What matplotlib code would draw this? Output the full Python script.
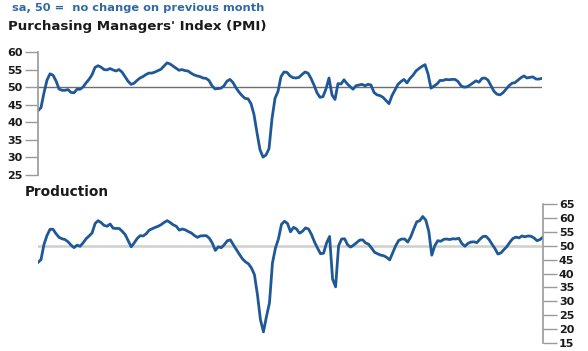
import numpy as np
import matplotlib
matplotlib.use("Agg")
import matplotlib.pyplot as plt

# Monthly readings, seasonally adjusted (50 = no change on previous month)
pmi = [
    43.3, 44.2, 48.4, 52.0, 53.8, 53.4, 51.8, 49.5, 49.1, 49.1,
    49.3, 48.5, 48.4, 49.4, 49.4, 50.0, 51.2, 52.2, 53.5, 55.6,
    56.1, 55.7, 55.0, 54.9, 55.3, 54.9, 54.6, 55.0, 54.3, 53.0,
    51.7, 50.8, 51.1, 51.9, 52.6, 53.0, 53.6, 54.0, 54.0, 54.3,
    54.7, 55.1, 56.0, 56.9, 56.6, 56.0, 55.4, 54.8, 55.0, 54.7,
    54.6, 54.0, 53.5, 53.2, 53.0, 52.6, 52.5, 51.9, 50.4, 49.5,
    49.6, 49.7, 50.4, 51.7, 52.2, 51.3, 49.8, 48.6, 47.6, 46.8,
    46.7, 45.3, 42.2, 37.0, 32.2, 30.1, 30.7, 32.5, 41.0, 46.8,
    48.8, 53.0, 54.3, 54.2, 53.2, 52.7, 52.6, 52.8, 53.6, 54.3,
    54.0, 52.5, 50.6, 48.4, 47.1, 47.3, 49.5, 52.6, 47.8, 46.5,
    51.0, 50.9, 52.1, 51.0, 50.2, 49.4, 50.4, 50.6, 50.8, 50.4,
    50.8, 50.6, 48.5, 47.8, 47.6, 47.1, 46.2, 45.3, 47.6, 49.2,
    50.8, 51.6, 52.2, 51.2, 52.5, 53.4, 54.6, 55.3, 55.9, 56.4,
    53.8, 49.7, 50.3, 50.9, 51.9, 51.9, 52.2, 52.1, 52.2, 52.2,
    51.6, 50.4, 50.0, 50.1, 50.6, 51.2, 51.8, 51.4, 52.5, 52.6,
    52.0, 50.4, 48.8, 48.0, 47.8, 48.4, 49.4, 50.4, 51.1, 51.3,
    52.0, 52.7, 53.2, 52.6, 52.8, 52.9, 52.3, 52.3, 52.5,
]

production = [
    44.0, 45.0, 50.5, 53.7, 55.9, 55.9, 54.3, 53.0, 52.5, 52.2,
    51.4, 50.2, 49.3, 50.2, 49.8, 51.0, 52.5, 53.5, 54.6, 58.0,
    59.0, 58.3, 57.3, 57.0, 57.8, 56.3, 56.2, 56.2, 55.2, 54.0,
    51.8, 49.6, 51.0, 52.6, 53.6, 53.5, 54.3, 55.6, 56.1, 56.6,
    57.0, 57.6, 58.4, 59.0, 58.3, 57.5, 57.0, 55.6, 56.0, 55.7,
    55.1, 54.6, 53.7, 53.0, 53.5, 53.6, 53.6, 52.7, 50.9, 48.3,
    49.6, 49.3, 50.4, 51.8, 52.1, 50.3, 48.6, 46.9, 45.3, 44.2,
    43.5, 42.0, 39.6, 32.4, 23.4, 19.0, 24.5, 29.4, 43.8, 49.2,
    52.5, 57.7, 58.8, 58.0, 55.0, 56.6, 56.0, 54.5, 55.2, 56.4,
    56.0, 54.0, 51.3, 49.1, 47.1, 47.3, 51.0, 53.3, 38.0, 35.2,
    50.0, 52.4, 52.5, 50.3, 49.5, 50.2, 51.1, 52.0, 52.1, 51.0,
    50.5, 49.1, 47.6, 47.1, 46.6, 46.4, 45.8, 44.9, 47.4, 50.0,
    51.9, 52.4, 52.4, 51.3, 53.2, 56.0, 58.6, 59.0, 60.5, 59.2,
    55.2, 46.6, 50.0, 51.8, 51.6, 52.3, 52.4, 52.2, 52.5, 52.4,
    52.7, 50.8, 49.8, 50.8, 51.3, 51.4, 51.1, 52.3, 53.3, 53.4,
    52.3, 50.6, 49.0, 47.0, 47.4, 48.6, 49.7, 51.3, 52.6, 53.1,
    52.8, 53.5, 53.2, 53.5, 53.4, 52.8, 51.8, 52.2, 53.1,
]

pmi_ticks = [25, 30, 35, 40, 45, 50, 55, 60]
prod_ticks = [15, 20, 25, 30, 35, 40, 45, 50, 55, 60, 65]

line_color = "#1f5896"
axis_color = "#9a9a9a"
text_color = "#1a1a1a"

plt.rcParams["font.family"] = "DejaVu Sans"

fig = plt.figure(figsize=(5.88, 3.51), dpi=100)

# --- PMI panel (axis on the left)
ax1 = fig.add_axes([38 / 588, 1 - 175 / 351, 504 / 588, 123 / 351])
x1 = np.arange(len(pmi))
ax1.axhline(50, color="#6e6e6e", linewidth=1.0, zorder=1)
ax1.plot(x1, pmi, color=line_color, linewidth=2.0, zorder=2)
ax1.set_xlim(0, len(pmi) - 1)
ax1.set_ylim(25, 60)
ax1.set_yticks(pmi_ticks)
ax1.set_xticks([])
for s in ["top", "right", "bottom"]:
    ax1.spines[s].set_visible(False)
ax1.spines["left"].set_color(axis_color)
ax1.spines["left"].set_linewidth(1.2)
ax1.tick_params(axis="y", length=9.5, width=1.0, color=axis_color, pad=1.5,
                labelsize=8, labelcolor=text_color)
for lab in ax1.get_yticklabels():
    lab.set_fontweight("bold")

# --- Production panel (axis on the right)
ax2 = fig.add_axes([38 / 588, 1 - 343 / 351, 505 / 588, 139 / 351])
x2 = np.arange(len(production))
ax2.axhline(50, color="#cfcfcf", linewidth=1.8, zorder=1)
ax2.plot(x2, production, color=line_color, linewidth=2.0, zorder=2)
ax2.set_xlim(0, len(production) - 1)
ax2.set_ylim(15, 65)
ax2.set_yticks(prod_ticks)
ax2.set_xticks([])
ax2.yaxis.tick_right()
for s in ["top", "left", "bottom"]:
    ax2.spines[s].set_visible(False)
ax2.spines["right"].set_color(axis_color)
ax2.spines["right"].set_linewidth(1.2)
ax2.tick_params(axis="y", length=10, width=1.0, color=axis_color, pad=1.5,
                labelsize=8, labelcolor=text_color)
for lab in ax2.get_yticklabels():
    lab.set_fontweight("bold")

# --- Texts
fig.text(12 / 588, 1 - 11 / 351, "sa, 50 =  no change on previous month",
         color="#2f6aa6", fontsize=8.2, fontweight="bold", va="baseline")
fig.text(8 / 588, 1 - 30 / 351, "Purchasing Managers' Index (PMI)",
         color=text_color, fontsize=9.6, fontweight="bold", va="baseline")
fig.text(25 / 588, 1 - 196 / 351, "Production",
         color=text_color, fontsize=9.8, fontweight="bold", va="baseline")

fig.savefig("out.png", dpi=100)
